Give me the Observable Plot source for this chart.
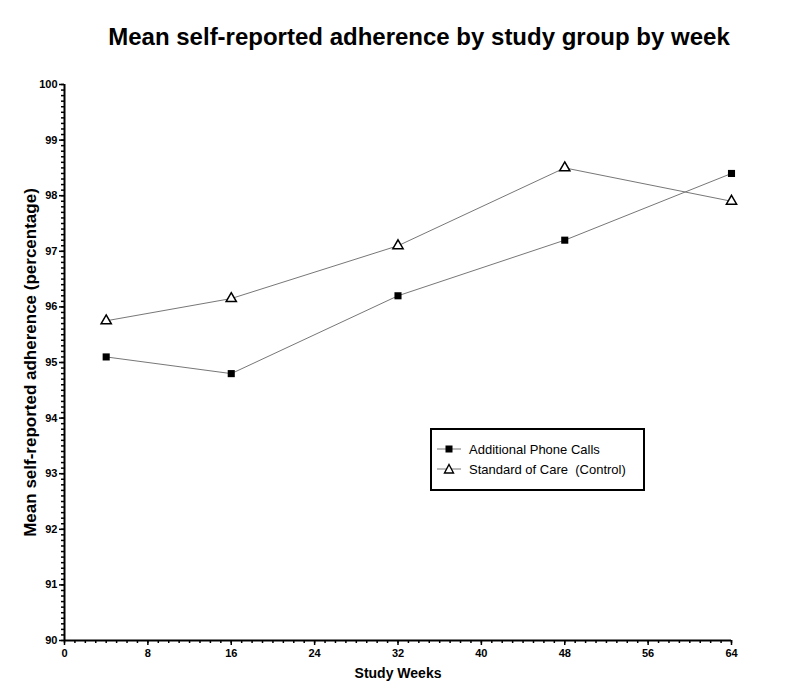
<!DOCTYPE html>
<html>
<head>
<meta charset="utf-8">
<script src="https://cdn.jsdelivr.net/npm/d3@7"></script>
<script src="https://cdn.jsdelivr.net/npm/@observablehq/plot@0.6"></script>
<style>
  body { margin: 0; background: #fff; }
  #wrap { position: relative; width: 800px; height: 688px; font-family: "Liberation Sans", Arial, sans-serif; }
  #legend { position: absolute; left: 430px; top: 428px; width: 211px; height: 59px; border: 2px solid #000; background: #fff; font-size: 13px; }
  .item { position: absolute; left: 5px; display: flex; align-items: center; height: 16px; }
  .item svg { margin-right: 8px; }
</style>
</head>
<body>
<div id="wrap"></div>
<script>
const weeks = [4, 16, 32, 48, 64];
const phoneCalls = [95.1, 94.8, 96.2, 97.2, 98.4];
const control = [95.75, 96.15, 97.1, 98.5, 97.9];
const seriesNames = ["Additional Phone Calls", "Standard of Care  (Control)"];
const xTicks = [0, 8, 16, 24, 32, 40, 48, 56, 64];
const yTicks = [90, 91, 92, 93, 94, 95, 96, 97, 98, 99, 100];

const data = [];
weeks.forEach((w, i) => data.push({week: w, value: phoneCalls[i], group: seriesNames[0]}));
weeks.forEach((w, i) => data.push({week: w, value: control[i], group: seriesNames[1]}));

const font = "Liberation Sans, Arial, sans-serif";
const chart = Plot.plot({
  width: 800,
  height: 688,
  marginLeft: 64,
  marginRight: 69,
  marginTop: 84,
  marginBottom: 48,
  style: {fontFamily: font, background: "#fff", color: "#000"},
  x: {domain: [0, 64], label: null},
  y: {domain: [90, 100], label: null},
  marks: [
    Plot.axisY({ticks: d3.range(90, 100.001, 0.1), tickSize: 3, text: null, label: null, strokeWidth: 1.5}),
    Plot.axisY({ticks: yTicks, tickSize: 5, tickPadding: 2, fontSize: 11, fontWeight: "bold", label: null, strokeWidth: 1.5}),
    Plot.axisX({ticks: d3.range(0, 64.001, 1), tickSize: 3, text: null, label: null, strokeWidth: 1.5}),
    Plot.axisX({ticks: xTicks, tickSize: 5, tickPadding: 4, fontSize: 11, fontWeight: "bold", label: null, strokeWidth: 1.5}),
    Plot.ruleX([0], {strokeWidth: 2}),
    Plot.ruleY([90], {strokeWidth: 2}),
    Plot.line(data, {x: "week", y: "value", z: "group", stroke: "#777", strokeWidth: 1}),
    Plot.dot(data.filter(d => d.group === seriesNames[0]), {x: "week", y: "value", symbol: "square", r: 4, fill: "#000", stroke: "none"}),
    Plot.dot(data.filter(d => d.group === seriesNames[1]), {x: "week", y: "value", symbol: "triangle", r: 3.8, fill: "#fff", stroke: "#000", strokeWidth: 1.5}),
    Plot.text(["Mean self-reported adherence by study group by week"], {frameAnchor: "top", dy: -47, dx: 21, fontSize: 24, fontWeight: "bold", lineAnchor: "middle"}),
    Plot.text(["Mean self-reported adherence (percentage)"], {frameAnchor: "left", dx: -34, rotate: -90, fontSize: 17, fontWeight: "bold", textAnchor: "middle", lineAnchor: "middle"}),
    Plot.text(["Study Weeks"], {frameAnchor: "bottom", dy: 33, fontSize: 14, fontWeight: "bold", lineAnchor: "middle"})
  ]
});
const wrap = document.getElementById("wrap");
wrap.appendChild(chart);

const legend = document.createElement("div");
legend.id = "legend";
const sym = [
  '<svg width="24" height="12"><line x1="0" y1="6" x2="24" y2="6" stroke="#777"/><rect x="8.5" y="2.5" width="7" height="7" fill="#000"/></svg>',
  '<svg width="24" height="12"><line x1="0" y1="6" x2="24" y2="6" stroke="#777"/><path d="M12,1.5 L16.5,10 L7.5,10 Z" fill="#fff" stroke="#000" stroke-width="1.4"/></svg>'
];
seriesNames.forEach((name, i) => {
  const it = document.createElement("div");
  it.className = "item";
  it.style.top = (11 + i * 20) + "px";
  it.innerHTML = sym[i] + "<span>" + name.replace(/  /g, " &nbsp;") + "</span>";
  legend.appendChild(it);
});
wrap.appendChild(legend);
</script>
</body>
</html>
